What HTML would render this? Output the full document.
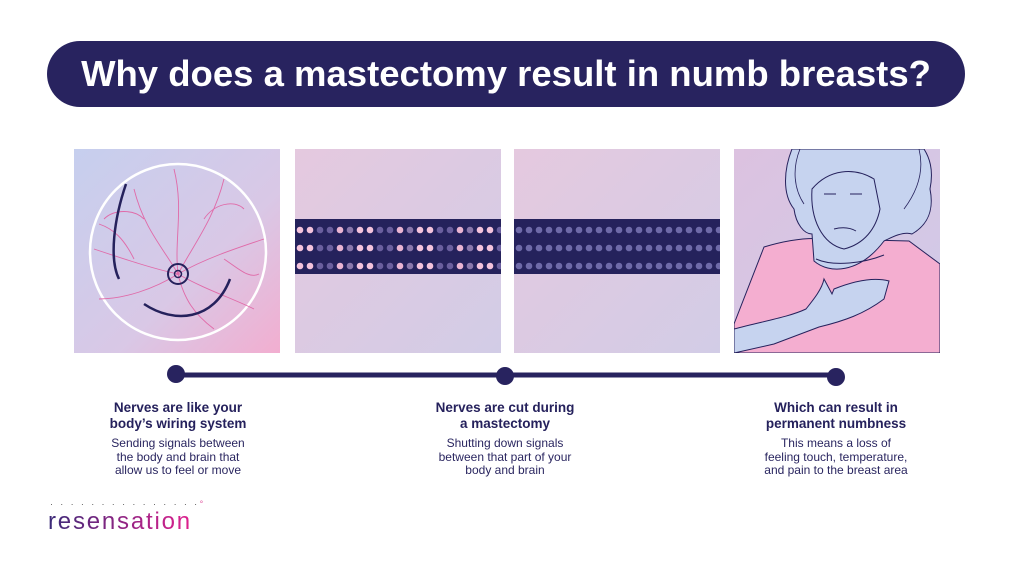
<!DOCTYPE html>
<html><head><meta charset="utf-8"><style>
body{margin:0;width:1017px;height:586px;background:#fff;position:relative;overflow:hidden;font-family:"Liberation Sans",sans-serif;color:#25215c}
.pill{position:absolute;left:47px;top:41px;width:918px;height:66px;background:#28235f;border-radius:33px;color:#fff;font-weight:bold;font-size:36.5px;text-align:center;line-height:66px}
.p{position:absolute;top:149px;width:206px;height:204px}
.t{position:absolute;width:220px;text-align:center}
.h{font-weight:bold;font-size:13.5px;line-height:16px;color:#25215c}
.b{font-size:12px;line-height:13.5px;color:#2a2660;margin-top:5px}
</style></head><body>
<div class="pill">Why does a mastectomy result in numb breasts?</div>

<svg class="p" style="left:74px" viewBox="0 0 206 204">
<defs><linearGradient id="g1" x1="0" y1="0" x2="1" y2="1"><stop offset="0" stop-color="#c6cfee"/><stop offset="0.6" stop-color="#d9c8e6"/><stop offset="1" stop-color="#f2aed0"/></linearGradient></defs>
<rect width="206" height="204" fill="url(#g1)"/>
<circle cx="104" cy="103" r="88" fill="none" stroke="#fff" stroke-width="2.5"/>
<g fill="none" stroke="#e06aa8" stroke-width="0.9">
<path d="M104 125 C90 100 70 80 60 40 M104 125 C100 90 110 60 100 20 M104 125 C120 95 140 70 150 30 M104 125 C130 110 160 100 190 90 M104 125 C80 120 50 110 20 100 M104 125 C80 140 50 150 25 150 M104 125 C110 150 120 165 140 180 M104 125 C130 140 160 150 180 160 M70 70 C60 60 40 60 30 70 M130 70 C140 55 160 50 170 60 M60 110 C50 90 40 80 25 75 M150 110 C165 120 175 130 185 125"/>
</g>
<path d="M52 35 C40 70 35 110 45 130" fill="none" stroke="#25215c" stroke-width="2.5"/>
<path d="M70 155 C100 175 140 172 156 130" fill="none" stroke="#25215c" stroke-width="2.5"/>
<circle cx="104" cy="125" r="10" fill="none" stroke="#25215c" stroke-width="2"/>
<circle cx="104" cy="125" r="3.5" fill="none" stroke="#25215c" stroke-width="1.5"/>
</svg>

<svg class="p" style="left:295px" viewBox="0 0 206 204">
<defs><linearGradient id="g2" x1="0" y1="0" x2="1" y2="1"><stop offset="0" stop-color="#e5c9df"/><stop offset="1" stop-color="#d2cce6"/></linearGradient>
<pattern id="d1" x="0" y="0" width="60" height="18" patternUnits="userSpaceOnUse">
<circle cx="5" cy="9" r="3.3" fill="#f4c3dc"/><circle cx="15" cy="9" r="3.3" fill="#f4c3dc"/><circle cx="25" cy="9" r="3.3" fill="#6a5f9e"/><circle cx="35" cy="9" r="3.3" fill="#6a5f9e"/><circle cx="45" cy="9" r="3.3" fill="#e9b4d2"/><circle cx="55" cy="9" r="3.3" fill="#8a78ac"/></pattern></defs>
<rect width="206" height="204" fill="url(#g2)"/>
<rect y="70" width="206" height="55" fill="#25225c"/>
<rect y="70" width="206" height="54" fill="url(#d1)"/>
</svg>

<svg class="p" style="left:514px" viewBox="0 0 206 204">
<defs><pattern id="d2" x="0" y="0" width="10" height="18" patternUnits="userSpaceOnUse"><circle cx="5" cy="9" r="3.3" fill="#6e6aa8"/></pattern></defs>
<rect width="206" height="204" fill="url(#g2)"/>
<rect y="70" width="206" height="55" fill="#25225c"/>
<rect y="70" width="206" height="54" fill="url(#d2)"/>
</svg>

<svg class="p" style="left:734px" viewBox="0 0 206 204">
<defs><linearGradient id="g4" x1="0" y1="0" x2="1" y2="1"><stop offset="0" stop-color="#dcc2e0"/><stop offset="1" stop-color="#d0cbe8"/></linearGradient></defs>
<rect width="206" height="204" fill="url(#g4)"/>
<path d="M0 175 L30 98 C50 92 70 88 90 90 L175 92 L206 115 L206 204 L0 204Z" fill="#f4aed0" stroke="#25215c" stroke-width="1"/>
<path d="M58 0 C50 20 48 45 60 60 C62 75 70 85 78 85 L80 112 C95 125 125 125 150 92 C158 88 170 82 178 85 C195 75 200 60 196 40 C200 20 195 8 190 0Z" fill="#c6d3ef" stroke="#25215c" stroke-width="1"/>
<path d="M78 40 C76 70 88 95 110 100 C130 95 142 80 146 60 L140 30 C120 18 95 20 78 40Z" fill="#c6d3ef" stroke="#25215c" stroke-width="1"/>
<path d="M0 180 C30 172 55 168 72 160 C80 150 88 140 90 130 L98 145 L100 140 C120 132 140 128 155 132 L150 150 C130 165 110 172 85 178 L40 195 L0 204Z" fill="#c6d3ef" stroke="#25215c" stroke-width="1"/>
<path d="M66 0 C58 20 60 40 70 55 M185 0 C190 20 185 40 170 60" fill="none" stroke="#25215c" stroke-width="0.8"/>
<path d="M90 45 l12 0 M116 45 l12 0 M100 80 C108 78 115 78 122 82 M82 110 C100 118 130 114 150 106" stroke="#25215c" fill="none"/>
</svg>

<svg style="position:absolute;left:0;top:0" width="1017" height="586">
<line x1="176" y1="375" x2="836" y2="375" stroke="#28235f" stroke-width="5"/>
<circle cx="176" cy="374" r="9" fill="#28235f"/><circle cx="505" cy="376" r="9" fill="#28235f"/><circle cx="836" cy="377" r="9" fill="#28235f"/>
</svg>

<div class="t" style="left:68px;top:400px"><div class="h">Nerves are like your<br>body’s wiring system</div><div class="b">Sending signals between<br>the body and brain that<br>allow us to feel or move</div></div>
<div class="t" style="left:395px;top:400px"><div class="h">Nerves are cut during<br>a mastectomy</div><div class="b">Shutting down signals<br>between that part of your<br>body and brain</div></div>
<div class="t" style="left:726px;top:400px"><div class="h">Which can result in<br>permanent numbness</div><div class="b">This means a loss of<br>feeling touch, temperature,<br>and pain to the breast area</div></div>

<div style="position:absolute;left:50px;top:499px;font-size:9px;letter-spacing:2.4px;color:#555">· · · · · · · · · · · · · · ·<span style="color:#e0559e">°</span></div>
<div style="position:absolute;left:48px;top:508px;font-size:24px;letter-spacing:1.8px;background:linear-gradient(90deg,#3a2a78,#e0208e);-webkit-background-clip:text;color:transparent">resensation</div>
</body></html>
